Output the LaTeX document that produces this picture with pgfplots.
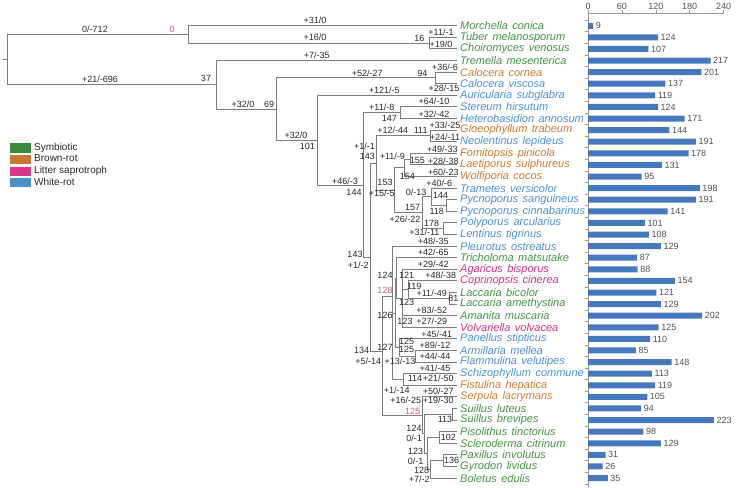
\documentclass[border=0pt]{standalone}
\usepackage{fontspec}
\setmainfont{Liberation Sans}
\usepackage{pgfplots}
\usepackage{pgfplotstable}
\pgfplotsset{compat=1.18}
\definecolor{symg}{RGB}{62,150,62}
\definecolor{brwn}{RGB}{208,122,44}
\definecolor{litp}{RGB}{214,50,130}
\definecolor{whtb}{RGB}{74,144,210}
\definecolor{symbox}{RGB}{58,140,58}
\definecolor{brnbox}{RGB}{200,118,50}
\definecolor{litbox}{RGB}{214,55,135}
\definecolor{whtbox}{RGB}{75,145,205}
\definecolor{treeg}{RGB}{125,125,125}
\definecolor{labk}{RGB}{40,40,40}
\definecolor{pinklab}{RGB}{220,80,150}
\definecolor{barblue}{RGB}{70,120,190}
\definecolor{axgray}{RGB}{150,150,150}
\definecolor{tickgray}{RGB}{80,80,80}
\tikzset{tl/.style={draw=treeg, line width=0.9pt},
  lab/.style={font=\fontsize{9}{9}\selectfont, text=labk, inner sep=0pt, anchor=center}}
\newcommand{\sn}[3]{\textcolor{#1}{\itshape #2\hspace{0.4em}#3}}
\newcommand{\lab}[3]{\node[lab] at (axis cs:#1,#2) {#3};}
\newcommand{\plab}[3]{\node[lab,text=pinklab] at (axis cs:#1,#2) {#3};}
\pgfplotstableread{
idx val
0 9
1 124
2 107
3 217
4 201
5 137
6 119
7 124
8 171
9 144
10 191
11 178
12 131
13 95
14 198
15 191
16 141
17 101
18 108
19 129
20 87
21 88
22 154
23 121
24 129
25 202
26 125
27 110
28 85
29 148
30 113
31 119
32 105
33 94
34 223
35 98
36 129
37 31
38 26
39 35
}\bardata
\begin{document}
\begin{tikzpicture}
\begin{axis}[name=tree, at={(0pt,0pt)}, anchor=south west, scale only axis,
  width=738pt, height=487pt, xmin=0, xmax=738, ymin=0, ymax=487, y dir=reverse,
  hide axis, clip=false,
  legend image code/.code={\fill[#1,draw=none] (0pt,-4.6pt) rectangle (21pt,4.6pt);},
  legend style={at={(axis cs:10,142)}, anchor=north west, draw=none, fill=none,
    font=\fontsize{10}{10}\selectfont, text=labk, inner sep=0pt, row sep=0pt,
    nodes={inner sep=0pt, text height=8pt, text depth=3.6pt}, column sep=3pt},
  legend cell align=left]
\addlegendimage{fill=symbox,draw=none}\addlegendentry{Symbiotic}
\addlegendimage{fill=brnbox,draw=none}\addlegendentry{Brown-rot}
\addlegendimage{fill=litbox,draw=none}\addlegendentry{Litter saprotroph}
\addlegendimage{fill=whtbox,draw=none}\addlegendentry{White-rot}
% tree forks
\addplot[tl, mark=none] coordinates {(457,37.3)(429.3,37.3)(429.3,48.9)(457,48.9)};
\addplot[tl, mark=none] coordinates {(457,25.7)(188.3,25.7)(188.3,43.1)(429.3,43.1)};
\addplot[tl, mark=none] coordinates {(457,72.1)(435,72.1)(435,83.7)(457,83.7)};
\addplot[tl, mark=none] coordinates {(457,106.9)(400,106.9)(400,118.5)(457,118.5)};
\addplot[tl, mark=none] coordinates {(457,130.1)(430,130.1)(430,141.7)(457,141.7)};
\addplot[tl, mark=none] coordinates {(457,153.3)(410,153.3)(410,164.9)(457,164.9)};
\addplot[tl, mark=none] coordinates {(410,159.1)(404,159.1)(404,176.5)(457,176.5)};
\addplot[tl, mark=none] coordinates {(457,199.7)(446.7,199.7)(446.7,211.3)(457,211.3)};
\addplot[tl, mark=none] coordinates {(457,188.1)(431.7,188.1)(431.7,205.5)(446.7,205.5)};
\addplot[tl, mark=none] coordinates {(457,222.9)(443.3,222.9)(443.3,234.5)(457,234.5)};
\addplot[tl, mark=none] coordinates {(431.7,196.8)(422.7,196.8)(422.7,228.7)(443.3,228.7)};
\addplot[tl, mark=none] coordinates {(404,167.8)(394,167.8)(394,212.75)(422.7,212.75)};
\addplot[tl, mark=none] coordinates {(430,135.9)(376.7,135.9)(376.7,190.3)(394,190.3)};
% Agaricales
\addplot[tl, mark=none] coordinates {(457,292.5)(449.3,292.5)(449.3,304.1)(457,304.1)};
\addplot[tl, mark=none] coordinates {(457,280.9)(408.3,280.9)(408.3,298.3)(449.3,298.3)};
\addplot[tl, mark=none] coordinates {(457,269.3)(402.3,269.3)(402.3,327.3)(457,327.3)};
\addplot[tl, mark=none] coordinates {(402.3,289.6)(408.3,289.6)};
\addplot[tl, mark=none] coordinates {(402.3,315.7)(457,315.7)};
\addplot[tl, mark=none] coordinates {(457,257.7)(396.7,257.7)(396.7,298.3)(402.3,298.3)};
\addplot[tl, mark=none] coordinates {(457,350.5)(415,350.5)(415,362.1)(457,362.1)};
\addplot[tl, mark=none] coordinates {(457,338.9)(399.3,338.9)(399.3,356.3)(415,356.3)};
\addplot[tl, mark=none] coordinates {(396.7,278)(395,278)(395,347.6)(399.3,347.6)};
\addplot[tl, mark=none] coordinates {(457,373.7)(403.3,373.7)(403.3,385.3)(457,385.3)};
\addplot[tl, mark=none] coordinates {(457,246.1)(392.7,246.1)(392.7,379.5)(403.3,379.5)};
\addplot[tl, mark=none] coordinates {(392.7,313)(395,313)};
% Boletales
\addplot[tl, mark=none] coordinates {(457,408.5)(452.7,408.5)(452.7,420.1)(457,420.1)};
\addplot[tl, mark=none] coordinates {(457,431.7)(439.3,431.7)(439.3,443.3)(457,443.3)};
\addplot[tl, mark=none] coordinates {(457,454.9)(443.3,454.9)(443.3,466.5)(457,466.5)};
\addplot[tl, mark=none] coordinates {(443.3,460.7)(430,460.7)(430,478.1)(457,478.1)};
\addplot[tl, mark=none] coordinates {(439.3,437.5)(427.3,437.5)(427.3,469.4)(430,469.4)};
\addplot[tl, mark=none] coordinates {(452.7,414.3)(424.7,414.3)(424.7,453.45)(427.3,453.45)};
\addplot[tl, mark=none] coordinates {(457,396.9)(422,396.9)(422,433.9)(424.7,433.9)};
% backbone
\addplot[tl, mark=none] coordinates {(392.7,296.7)(382.3,296.7)(382.3,415.4)(422,415.4)};
\addplot[tl, mark=none] coordinates {(376.7,163.1)(370,163.1)(370,351.7)(382.3,351.7)};
\addplot[tl, mark=none] coordinates {(400,112.7)(363.3,112.7)(363.3,257.4)(370,257.4)};
\addplot[tl, mark=none] coordinates {(457,95.3)(317.7,95.3)(317.7,185)(363.3,185)};
\addplot[tl, mark=none] coordinates {(435,77.9)(276.7,77.9)(276.7,140.15)(317.7,140.15)};
\addplot[tl, mark=none] coordinates {(457,60.5)(216.7,60.5)(216.7,109)(276.7,109)};
\addplot[tl, mark=none] coordinates {(188.3,34.4)(7.3,34.4)(7.3,84.75)(216.7,84.75)};
\addplot[tl, mark=none] coordinates {(3,59.6)(7.3,59.6)};
% branch labels
\lab{95}{29}{0/-712}
\plab{172}{29}{0}
\lab{100}{79}{+21/-696}
\lab{206}{78.7}{37}
\lab{315}{20.3}{+31/0}
\lab{315}{37.7}{+16/0}
\lab{419.3}{38.3}{16}
\lab{441}{32.7}{+11/-1}
\lab{441}{44.7}{+19/0}
\lab{316.7}{55.3}{+7/-35}
\lab{367.3}{73}{+52/-27}
\lab{422.3}{73}{94}
\lab{445}{67}{+36/-6}
\lab{444}{88}{+28/-15}
\lab{243}{104}{+32/0}
\lab{269}{104}{69}
\lab{384.3}{90.3}{+121/-5}
\lab{296}{135}{+32/0}
\lab{307.3}{146.3}{101}
\lab{381.7}{107.7}{+11/-8}
\lab{389.3}{118.7}{147}
\lab{434}{101.7}{+64/-10}
\lab{434}{114}{+32/-42}
\lab{392.7}{130.3}{+12/-44}
\lab{420.7}{130.3}{111}
\lab{445}{125.3}{+33/-25}
\lab{445}{137.3}{+24/-11}
\lab{364.5}{146.7}{+1/-1}
\lab{367.3}{156}{143}
\lab{392.3}{156}{+11/-9}
\lab{442.3}{149}{+49/-33}
\lab{417.3}{160}{155}
\lab{443.3}{161}{+28/-38}
\lab{443.3}{172.7}{+60/-23}
\lab{407.3}{176}{154}
\lab{345}{181}{+46/-3}
\lab{354}{192.7}{144}
\lab{385}{182.7}{153}
\lab{381.7}{193.3}{+15/-5}
\lab{439.3}{183.3}{+40/-6}
\lab{416}{192.7}{0/-13}
\lab{440.7}{195}{144}
\lab{412.7}{207.7}{157}
\lab{436.7}{211.7}{118}
\lab{405}{219.3}{+26/-22}
\lab{431.7}{223.3}{178}
\lab{424.3}{232.7}{+31/-11}
\lab{433.3}{241.7}{+48/-35}
\lab{355}{254}{143}
\lab{358.3}{265}{+1/-2}
\lab{433.3}{252.7}{+42/-65}
\lab{433.3}{264}{+29/-42}
\lab{385}{275}{124}
\lab{406.7}{275}{121}
\lab{440.7}{275.5}{+48/-38}
\plab{385}{290}{128}
\lab{414.3}{286.7}{119}
\lab{431.7}{293.3}{+11/-49}
\lab{453.3}{298.3}{81}
\lab{406.7}{302.3}{123}
\lab{385}{315}{126}
\lab{431.7}{310.7}{+83/-52}
\lab{405}{321}{123}
\lab{431.7}{321.5}{+27/-29}
\lab{436.7}{334}{+45/-41}
\lab{406.7}{341.5}{125}
\lab{435}{345}{+89/-12}
\lab{385}{347.3}{127}
\lab{361.7}{350}{134}
\lab{406.7}{349.3}{125}
\lab{435}{356.7}{+44/-44}
\lab{368.3}{361.7}{+5/-14}
\lab{400}{361.7}{+13/-13}
\lab{435}{368.3}{+41/-45}
\lab{415}{378.3}{114}
\lab{438.3}{378.3}{+21/-50}
\lab{396.7}{390}{+1/-14}
\lab{438.3}{391.7}{+50/-27}
\lab{405.7}{400.7}{+16/-25}
\lab{438.3}{400.7}{+19/-30}
\plab{412.7}{411.7}{125}
\lab{445}{419.3}{113}
\lab{414}{428.3}{124}
\lab{414}{438.3}{0/-1}
\lab{448.3}{437.3}{102}
\lab{415.7}{451.7}{123}
\lab{415.7}{461.7}{0/-1}
\lab{451.7}{460}{136}
\lab{421.7}{470.5}{128}
\lab{419.3}{479}{+7/-2}
\coordinate (BL) at (axis cs:0,487);
\coordinate (TR) at (axis cs:738,0);
\end{axis}
\begin{axis}[at={(588pt,0pt)}, anchor=south west, scale only axis,
  width=135.5pt, height=474pt,
  xmin=0, xmax=240, ymin=-1.1, ymax=39.77, y dir=reverse,
  axis x line=top, axis y line=left, axis line style={draw=axgray,-},
  tick align=outside, major tick length=3pt,
  every tick/.style={draw=axgray},
  xtick={0,60,120,180,240},
  /pgf/number format/assume math mode=true,
  xticklabel style={font=\fontsize{9}{9}\selectfont, text=tickgray, inner sep=0.5pt},
  ytick={-0.5,0.5,...,39.5}, yticklabels={},
  extra y ticks={0,...,39},
  extra y tick style={major tick length=0pt,
    yticklabel style={anchor=west, xshift=-128pt, inner sep=0pt, font=\fontsize{11}{11}\selectfont}},
  extra y tick labels={
    \sn{symg}{Morchella}{conica},
    \sn{symg}{Tuber}{melanosporum},
    \sn{symg}{Choiromyces}{venosus},
    \sn{symg}{Tremella}{mesenterica},
    \sn{brwn}{Calocera}{cornea},
    \sn{whtb}{Calocera}{viscosa},
    \sn{whtb}{Auricularia}{subglabra},
    \sn{whtb}{Stereum}{hirsutum},
    \sn{whtb}{Heterobasidion}{annosum},
    \sn{brwn}{Gloeophyllum}{trabeum},
    \sn{whtb}{Neolentinus}{lepideus},
    \sn{brwn}{Fomitopsis}{pinicola},
    \sn{brwn}{Laetiporus}{sulphureus},
    \sn{brwn}{Wolfiporia}{cocos},
    \sn{whtb}{Trametes}{versicolor},
    \sn{whtb}{Pycnoporus}{sanguineus},
    \sn{whtb}{Pycnoporus}{cinnabarinus},
    \sn{whtb}{Polyporus}{arcularius},
    \sn{whtb}{Lentinus}{tigrinus},
    \sn{whtb}{Pleurotus}{ostreatus},
    \sn{symg}{Tricholoma}{matsutake},
    \sn{litp}{Agaricus}{bisporus},
    \sn{litp}{Coprinopsis}{cinerea},
    \sn{symg}{Laccaria}{bicolor},
    \sn{symg}{Laccaria}{amethystina},
    \sn{symg}{Amanita}{muscaria},
    \sn{litp}{Volvariella}{volvacea},
    \sn{whtb}{Panellus}{stipticus},
    \sn{whtb}{Armillaria}{mellea},
    \sn{whtb}{Flammulina}{velutipes},
    \sn{whtb}{Schizophyllum}{commune},
    \sn{brwn}{Fistulina}{hepatica},
    \sn{brwn}{Serpula}{lacrymans},
    \sn{symg}{Suillus}{luteus},
    \sn{symg}{Suillus}{brevipes},
    \sn{symg}{Pisolithus}{tinctorius},
    \sn{symg}{Scleroderma}{citrinum},
    \sn{symg}{Paxillus}{involutus},
    \sn{symg}{Gyrodon}{lividus},
    \sn{symg}{Boletus}{edulis}},
  xbar, bar width=6pt, clip=false,
  point meta=explicit symbolic,
  nodes near coords,
  nodes near coords style={font=\fontsize{9}{9}\selectfont, text=tickgray, anchor=west, inner sep=2.5pt}]
\addplot[fill=barblue, draw=none] table[x=val, y=idx, meta=val] {\bardata};
\end{axis}
\pgfresetboundingbox
\path[use as bounding box] (BL) rectangle (TR);
\end{tikzpicture}
\end{document}
